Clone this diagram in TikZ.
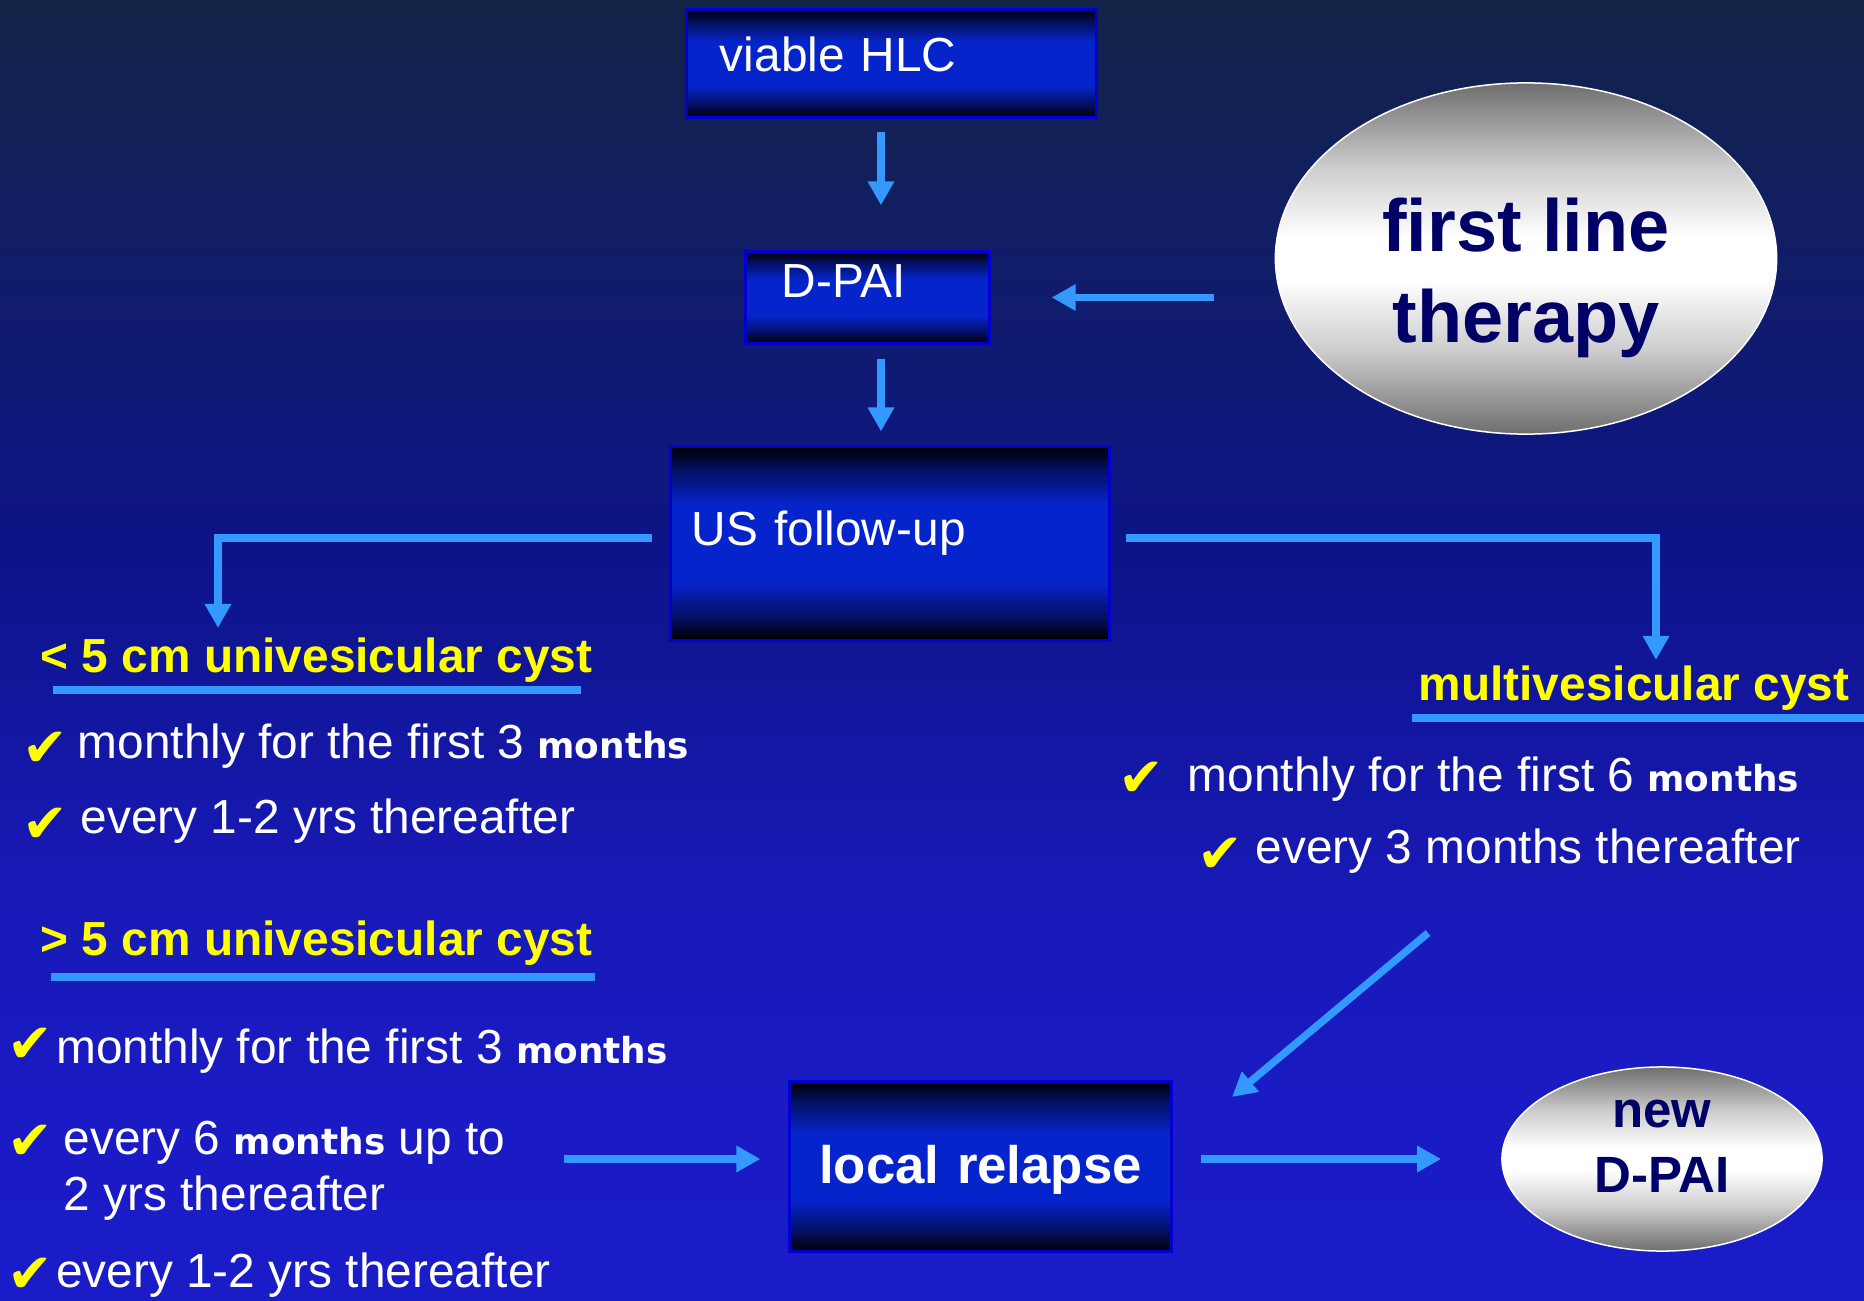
\documentclass[tikz,border=0pt]{standalone}
\usepackage{fontspec}
\setmainfont{Liberation Sans}
\newfontfamily\dvsans{DejaVu Sans}
\usetikzlibrary{arrows.meta,shapes.geometric}

\definecolor{bgtop}{RGB}{19,35,70}
\definecolor{bgupper}{RGB}{16,28,108}
\definecolor{bgmid}{RGB}{13,20,136}
\definecolor{bglower}{RGB}{23,25,181}
\definecolor{bgdeep}{RGB}{26,27,196}
\definecolor{bgbot}{RGB}{26,28,200}
\definecolor{boxblue}{RGB}{6,36,204}
\definecolor{boxdark}{RGB}{3,16,100}
\definecolor{boxedge}{RGB}{0,0,210}
\definecolor{arrowblue}{RGB}{51,153,255}
\definecolor{ovalgrey}{RGB}{110,110,110}
\definecolor{ovallight}{RGB}{205,205,205}
\definecolor{navytext}{RGB}{0,0,102}
\definecolor{cystyellow}{RGB}{255,255,0}

\pgfdeclareverticalshading{bgshade}{100bp}{color(0bp)=(bgbot); color(25bp)=(bgbot); color(32.7bp)=(bgdeep); color(41.2bp)=(bglower); color(53.8bp)=(bgmid); color(63.5bp)=(bgupper); color(75bp)=(bgtop); color(100bp)=(bgtop)}
\pgfdeclareverticalshading{boxshade}{100bp}{color(0bp)=(black); color(25bp)=(black); color(31bp)=(boxdark); color(40bp)=(boxblue); color(60bp)=(boxblue); color(69bp)=(boxdark); color(75bp)=(black); color(100bp)=(black)}
\pgfdeclareverticalshading{ovalshade}{100bp}{color(0bp)=(ovalgrey); color(25bp)=(ovalgrey); color(37bp)=(ovallight); color(47bp)=(white); color(53bp)=(white); color(63bp)=(ovallight); color(75bp)=(ovalgrey); color(100bp)=(ovalgrey)}

\newcommand{\boldmonths}{{\dvsans\bfseries\fontsize{10.2}{12}\selectfont months}}

\begin{document}
\begin{tikzpicture}[x=0.01cm,y=-0.01cm,
	arrowline/.style={draw=arrowblue,line width=0.075cm,-{Triangle[length=0.24cm,width=0.25cm]}},
	cystrule/.style={draw=arrowblue,line width=0.075cm}]
	\useasboundingbox (0,0) rectangle (1864,1300);
	\shade[shading=bgshade] (0,0) rectangle (1864,1300);
	\begin{scope}[every node/.style={shade,shading=boxshade,draw=boxedge,line width=0.03cm,text=white,font=\fontsize{13.6}{16}\selectfont,align=left,text depth=0pt}]
		\node[minimum width=4.09cm,minimum height=1.07cm,inner xsep=0.33cm,text width=3.43cm,text height=4.3pt] (hlc) at (891.5,63.5) {viable HLC};
		\node[minimum width=2.43cm,minimum height=0.91cm,inner xsep=0.36cm,text width=1.71cm,text height=0pt] (dpai) at (867.5,297.5) {D-PAI};
		\node[minimum width=4.38cm,minimum height=1.93cm,inner xsep=0.21cm,text width=3.96cm,text height=1.4pt] (usf) at (890,543.5) {US follow-up};
		\node[minimum width=3.81cm,minimum height=1.69cm,inner xsep=0.1cm,text width=3.61cm,text height=9.4pt,align=center,font=\bfseries\fontsize{15}{18}\selectfont] (relapse) at (980.5,1166.5) {local relapse};
	\end{scope}
	\begin{scope}[every node/.style={ellipse,shade,shading=ovalshade,draw=white,line width=0.015cm,text=navytext,align=center,inner sep=0pt,text depth=0pt}]
		\node[minimum width=5.01cm,minimum height=3.51cm,text height=47.5pt,font=\bfseries\fontsize{21}{25.6}\selectfont] (flt) at (1526,258.5) {first line\\therapy};
		\node[minimum width=3.2cm,minimum height=1.84cm,text height=18.8pt,font=\bfseries\fontsize{14.5}{18.5}\selectfont] (newd) at (1662,1159) {new\\D-PAI};
	\end{scope}
	\begin{scope}[every node/.style={anchor=base west,inner sep=0pt,text=cystyellow,font=\bfseries\fontsize{13.6}{16}\selectfont}]
		\node (small) at (40,672) {< 5 cm univesicular cyst};
		\node (large) at (40,955) {> 5 cm univesicular cyst};
		\node (multi) at (1418,700) {multivesicular cyst};
	\end{scope}
	\draw[cystrule] (53,690) -- (581,690);
	\draw[cystrule] (51,977) -- (595,977);
	\draw[cystrule] (1412,718) -- (1864,718);
	\begin{scope}[every node/.style={anchor=base west,inner sep=0pt,text=cystyellow,font=\dvsans\fontsize{15.5}{18}\selectfont}]
		\node (c1) at (22,766) {✔};
		\node (c2) at (22,842) {✔};
		\node (c3) at (7,1062) {✔};
		\node (c4) at (7,1159) {✔};
		\node (c5) at (7,1292) {✔};
		\node (c6) at (1118,796) {✔};
		\node (c7) at (1197,872) {✔};
	\end{scope}
	\begin{scope}[every node/.style={anchor=base west,inner sep=0pt,text=white,font=\fontsize{13.6}{16}\selectfont}]
		\node (s1) at (77,758) {monthly for the first 3 \boldmonths};
		\node (s2) at (80,833) {every 1-2 yrs thereafter};
		\node (g1) at (55.5,1063) {monthly for the first 3 \boldmonths};
		\node (g2) at (63,1154) {every 6 \boldmonths\ up to};
		\node (g3) at (63,1210) {2 yrs thereafter};
		\node (g4) at (55.5,1287) {every 1-2 yrs thereafter};
		\node (r1) at (1187,791) {monthly for the first 6 \boldmonths};
		\node (r2) at (1255,863) {every 3 months thereafter};
	\end{scope}
	\coordinate (ax) at (881,0);
	\coordinate (ltip) at (218,628);
	\coordinate (rtip) at (1656,660);
	\coordinate (dstart) at (1428,933);
	\coordinate (dtip) at (1232,1097);
	\coordinate (lstart) at (564,1159);
	\begin{scope}[every edge/.style={arrowline}]
		\path (hlc.south -| ax) edge[shorten <=0.13cm,shorten >=0.45cm] (dpai.north -| ax);
		\path (dpai.south -| ax) edge[shorten <=0.14cm,shorten >=0.14cm] (usf.north -| ax);
		\path (dpai.east -| flt.west) edge[shorten <=0.61cm,shorten >=0.61cm] (dpai.east);
		\path (lstart) edge[shorten >=0.28cm] (lstart -| relapse.west);
		\path (newd.west -| relapse.east) edge[shorten <=0.28cm,shorten >=0.6cm] (newd.west);
		\path (dstart) edge (dtip);
	\end{scope}
	\draw[arrowline,shorten <=0.17cm] ([yshift=0.055cm]usf.west) -| (ltip);
	\draw[arrowline,shorten <=0.15cm] ([yshift=0.055cm]usf.east) -| (rtip);
\end{tikzpicture}
\end{document}
